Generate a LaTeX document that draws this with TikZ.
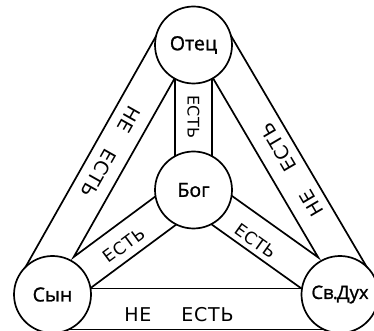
\documentclass[tikz,border=0pt]{standalone}
\usepackage{fontspec}
\setmainfont{Open Sans}
\newfontfamily\lblfont[FakeBold=1.2]{Open Sans}
\newfontfamily\bandfont[LetterSpace=4]{DejaVu Sans}
\usetikzlibrary{calc}
\pgfdeclarelayer{bands}
\pgfsetlayers{bands,main}
\begin{document}
\begin{tikzpicture}[x=1pt,y=1pt,
  person/.style={circle,draw,line width=1.7pt,fill=white,minimum size=77pt,inner sep=0pt,font=\lblfont\fontsize{19.5}{19.5}\selectfont},
  edge/.style={line width=1.7pt,line cap=round},
  outerlbl/.style={font=\bandfont\fontsize{19}{19}\selectfont,inner sep=0pt},
  innerlbl/.style={font=\bandfont\fontsize{17}{17}\selectfont,inner sep=0pt}]
\path[use as bounding box,clip] (0,0) rectangle (374,331);
\node[person] (otec) at (193.5,286) {Отец};
\node[person] (bog) at (193.5,141) {Бог};
\node[person] (syn) at (52.5,36.5) {Сын};
\node[person,font=\lblfont\fontsize{18.5}{18.5}\selectfont] (dukh) at (340,36.5) {Св\kern-0.8pt.\kern-0.8ptДух};
\begin{pgfonlayer}{bands}
% inner band God - Son
\coordinate (bsU1) at ($(bog.center)!17.5pt!-90:(syn.center)$);
\coordinate (bsU2) at ($(syn.center)!17.5pt!90:(bog.center)$);
\coordinate (bsL1) at ($(bog.center)!17.5pt!90:(syn.center)$);
\coordinate (bsL2) at ($(syn.center)!17.5pt!-90:(bog.center)$);
% inner band God - Spirit
\coordinate (bdU1) at ($(bog.center)!17.5pt!90:(dukh.center)$);
\coordinate (bdU2) at ($(dukh.center)!17.5pt!-90:(bog.center)$);
\coordinate (bdL1) at ($(bog.center)!17.5pt!-90:(dukh.center)$);
\coordinate (bdL2) at ($(dukh.center)!17.5pt!90:(bog.center)$);
\coordinate (xs) at (intersection of otec.center--syn.center and bsU1--bsU2);
\coordinate (xd) at (intersection of otec.center--dukh.center and bdU1--bdU2);
% outer left band
\draw[edge] (otec.center) -- (xs) -- (bsU1);
\draw[edge] ($(otec.center)!37pt!-90:(syn.center)$) -- ($(syn.center)!37pt!90:(otec.center)$);
% outer right band
\draw[edge] (otec.center) -- (xd) -- (bdU1);
\draw[edge] ($(otec.center)!37pt!90:(dukh.center)$) -- ($(dukh.center)!37pt!-90:(otec.center)$);
% lower edges of inner bands
\draw[edge] (bsL1) -- (bsL2);
\draw[edge] (bdL1) -- (bdL2);
% vertical band
\draw[edge] ($(otec.center)+(-18.5,0)$) -- ($(bog.center)+(-18.5,0)$);
\draw[edge] ($(otec.center)+(18.5,0)$) -- ($(bog.center)+(18.5,0)$);
% bottom band
\draw[edge] ($(syn.center)+(0,6)$) -- ($(dukh.center)+(0,6)$);
\draw[edge] ($(syn.center)+(0,-35)$) -- ($(dukh.center)+(0,-35)$);
\end{pgfonlayer}
\node[outerlbl] (tb) at (179,16.5) {НЕ\hspace{30pt}ЕСТЬ};
\node[outerlbl,rotate=-119.5] (tl) at (110.75,179) {НЕ\hspace{22pt}ЕСТЬ};
\node[outerlbl,rotate=120.4] (tr) at (291.75,161) {НЕ\hspace{25pt}ЕСТЬ};
\node[innerlbl,font=\bandfont\fontsize{16}{16}\selectfont,rotate=-90] (tv) at (193.5,214) {ЕСТЬ};
\node[innerlbl,rotate=36.6] (ts) at (124,86) {ЕСТЬ};
\node[innerlbl,rotate=-35.5] (td) at (256,90) {ЕСТЬ};
\end{tikzpicture}
\end{document}
